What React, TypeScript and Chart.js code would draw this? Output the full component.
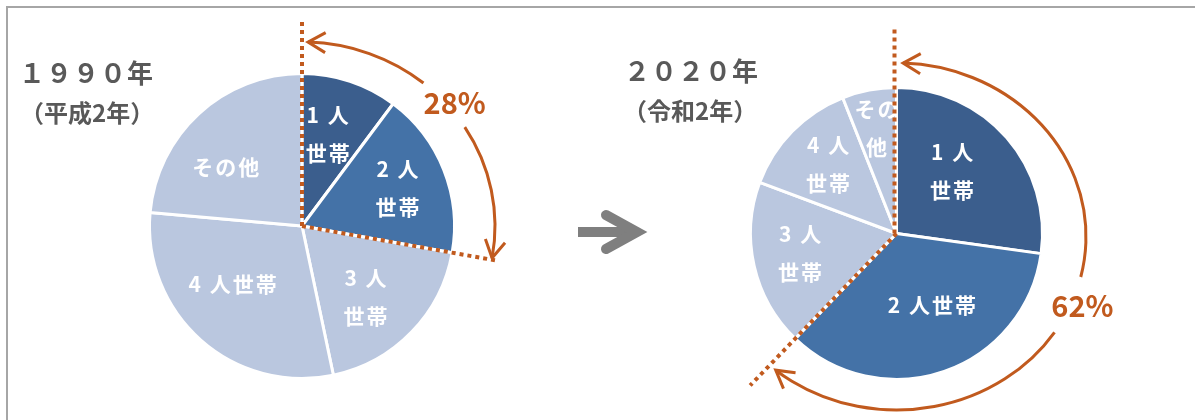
import React, { useEffect, useRef } from "react";
import { Chart, registerables } from "chart.js";

Chart.register(...registerables);

// ---- data ----
const categories = ["1人世帯", "2人世帯", "3人世帯", "4人世帯", "その他"];
const values1990 = [10.2, 17.6, 18.9, 29.7, 23.6];
const values2020 = [27.2, 35.0, 18.5, 13.3, 6.0];
const sliceLabels1990 = [["1 人", "世帯"], ["2 人", "世帯"], ["3 人", "世帯"], ["4 人世帯"], ["その他"]];
const sliceLabels2020 = [["1 人", "世帯"], ["2 人世帯"], ["3 人", "世帯"], ["4 人", "世帯"], ["その", "他"]];
const share1990 = "28%";
const share2020 = "62%";
const title1990 = ["１９９０年", "（平成2年）"];
const title2020 = ["２０２０年", "（令和2年）"];

// ---- styles ----
const sliceColors = ["#3B5E8D", "#4472A7", "#BAC7DF", "#BAC7DF", "#BAC7DF"];
const ORANGE = "#C15A1E";
const FONT = '"Noto Sans CJK JP", "Noto Sans", sans-serif';

type Decor = {
  labels: string[][];
  labelPos: number[][]; // [angle delta deg, radius fraction]
  visR: number;
  vLineLen: number;
  vLineDx: number;
  dLineLen: number;
  ell: { dy: number; rx: number; ry: number; t0: number; g0: number; g1: number; t1: number };
  share: string;
  shareScale: number;
};

function arrowHead(ctx: CanvasRenderingContext2D, x: number, y: number, dx: number, dy: number, len: number, half: number) {
  const a = Math.atan2(dy, dx);
  ctx.beginPath();
  ctx.moveTo(x + len * Math.cos(a + Math.PI - half), y + len * Math.sin(a + Math.PI - half));
  ctx.lineTo(x, y);
  ctx.lineTo(x + len * Math.cos(a + Math.PI + half), y + len * Math.sin(a + Math.PI + half));
  ctx.stroke();
}

const decorPlugin = {
  id: "pieDecor",
  afterDatasetsDraw(chart: any, _args: any, opts: Decor) {
    const meta = chart.getDatasetMeta(0);
    const arcs = meta.data as any[];
    if (!arcs.length) return;
    const cx = arcs[0].x;
    const cy = arcs[0].y;
    const R = opts.visR;
    const ctx: CanvasRenderingContext2D = chart.ctx;
    ctx.save();

    // slice labels
    ctx.fillStyle = "#FFFFFF";
    ctx.font = `bold 21px ${FONT}`;
    (ctx as any).letterSpacing = "2px";
    ctx.textAlign = "center";
    ctx.textBaseline = "middle";
    const lineH = 38;
    arcs.forEach((arc, i) => {
      const p = opts.labelPos[i];
      const mid = (arc.startAngle + arc.endAngle) / 2 + (p[0] * Math.PI) / 180;
      const r = R * p[1];
      const x = cx + r * Math.cos(mid) + 1;
      const y = cy + r * Math.sin(mid);
      const lines = opts.labels[i];
      lines.forEach((ln, k) => {
        ctx.fillText(ln, x, y + (k - (lines.length - 1) / 2) * lineH);
      });
    });
    (ctx as any).letterSpacing = "0px";

    // dotted lines
    ctx.strokeStyle = ORANGE;
    ctx.lineWidth = 4;
    ctx.lineCap = "butt";
    ctx.setLineDash([4, 4]);
    const a0 = arcs[0].startAngle;
    ctx.beginPath();
    ctx.moveTo(cx + opts.vLineDx, cy);
    ctx.lineTo(cx + opts.vLineDx + Math.cos(a0) * opts.vLineLen, cy + Math.sin(a0) * opts.vLineLen);
    ctx.stroke();
    const a1 = arcs[1].endAngle;
    ctx.beginPath();
    ctx.moveTo(cx, cy);
    ctx.lineTo(cx + Math.cos(a1) * opts.dLineLen, cy + Math.sin(a1) * opts.dLineLen);
    ctx.stroke();
    ctx.setLineDash([]);

    // curved arrow (two segments around the share text)
    const e = opts.ell;
    const ex = cx;
    const ey = cy + e.dy;
    const d2r = Math.PI / 180;
    ctx.lineWidth = 3;
    ctx.beginPath();
    ctx.ellipse(ex, ey, e.rx, e.ry, 0, e.t0 * d2r, e.g0 * d2r);
    ctx.stroke();
    ctx.beginPath();
    ctx.ellipse(ex, ey, e.rx, e.ry, 0, e.g1 * d2r, e.t1 * d2r);
    ctx.stroke();
    ctx.lineJoin = "miter";
    const ts = e.t0 * d2r;
    arrowHead(ctx, ex + e.rx * Math.cos(ts), ey + e.ry * Math.sin(ts), e.rx * Math.sin(ts), -e.ry * Math.cos(ts), 20, (30 * Math.PI) / 180);
    const te = e.t1 * d2r;
    arrowHead(ctx, ex + e.rx * Math.cos(te), ey + e.ry * Math.sin(te), -e.rx * Math.sin(te), e.ry * Math.cos(te), 20, (30 * Math.PI) / 180);

    // share text
    const tm = ((e.g0 + e.g1) / 2) * d2r;
    ctx.fillStyle = ORANGE;
    ctx.font = `bold 29px ${FONT}`;
    ctx.textAlign = "center";
    ctx.textBaseline = "middle";
    ctx.fillText(opts.share, ex + e.rx * opts.shareScale * Math.cos(tm), ey + e.ry * Math.sin(tm));
    ctx.restore();
  },
};

function PieCanvas(props: {
  values: number[];
  width: number;
  height: number;
  padding: { left: number; right: number; top: number; bottom: number };
  radius: number;
  decor: Decor;
}) {
  const ref = useRef<HTMLCanvasElement | null>(null);
  useEffect(() => {
    if (!ref.current) return;
    const chart = new Chart(ref.current, {
      type: "pie",
      data: {
        labels: categories,
        datasets: [
          {
            data: props.values,
            backgroundColor: sliceColors,
            borderColor: "#FFFFFF",
            borderWidth: 3,
          },
        ],
      },
      options: {
        animation: false,
        responsive: false,
        devicePixelRatio: 1,
        events: [],
        radius: props.radius,
        layout: { padding: props.padding },
        plugins: {
          legend: { display: false },
          tooltip: { enabled: false },
          pieDecor: props.decor,
        } as any,
      } as any,
      plugins: [decorPlugin as any],
    });
    return () => chart.destroy();
  }, []);
  return <canvas ref={ref} width={props.width} height={props.height} style={{ display: "block", width: props.width, height: props.height }} />;
}

const titleStyle: React.CSSProperties = {
  position: "absolute",
  fontFamily: FONT,
  fontWeight: 700,
  color: "#595959",
  lineHeight: 1,
  whiteSpace: "nowrap",
};

export default function App() {
  const decor1990: Decor = {
    labels: sliceLabels1990,
    labelPos: [[-2.7, 0.63], [0, 0.68], [4, 0.63], [8.4, 0.6], [-9.7, 0.64]],
    visR: 151,
    vLineLen: 208,
    vLineDx: 0,
    dLineLen: 200,
    ell: { dy: 0, rx: 193, ry: 184, t0: -88.2, g0: -51, g1: -32.5, t1: 10 },
    share: share1990,
    shareScale: 1.06,
  };
  const decor2020: Decor = {
    labels: sliceLabels2020,
    labelPos: [[-7.4, 0.58], [-7.4, 0.55], [1.6, 0.68], [1, 0.675], [0, 0.74]],
    visR: 144.5,
    vLineLen: 205,
    vLineDx: -2,
    dLineLen: 211,
    ell: { dy: 3, rx: 189.5, ry: 173.5, t0: -88, g0: 13.5, g1: 33.5, t1: 129.6 },
    share: share2020,
    shareScale: 1.07,
  };
  return (
    <div style={{ position: "fixed", left: 0, top: 0, width: 1195, height: 420, background: "#FFFFFF", overflow: "hidden" }}>
      <div style={{ position: "absolute", left: 6, top: 6, width: 1200, height: 420, borderTop: "2px solid #A6A6A6", borderLeft: "2px solid #A6A6A6" }} />
      <div style={{ position: "absolute", left: 0, top: 0 }}>
        <PieCanvas values={values1990} width={600} height={420} padding={{ left: 4, right: 0, top: 32, bottom: 0 }} radius={152.5} decor={decor1990} />
      </div>
      <div style={{ position: "absolute", left: 600, top: 0 }}>
        <PieCanvas values={values2020} width={595} height={420} padding={{ left: 0, right: 2, top: 47, bottom: 0 }} radius={146} decor={decor2020} />
      </div>
      <div style={{ ...titleStyle, left: 19, top: 59, fontSize: 26, letterSpacing: 1 }}>{title1990[0]}</div>
      <div style={{ ...titleStyle, left: 20, top: 100, fontSize: 24 }}>{title1990[1]}</div>
      <div style={{ ...titleStyle, left: 624, top: 57, fontSize: 26, letterSpacing: 1 }}>{title2020[0]}</div>
      <div style={{ ...titleStyle, left: 623, top: 98, fontSize: 24 }}>{title2020[1]}</div>
      <svg style={{ position: "absolute", left: 570, top: 205 }} width={80} height={60}>
        <line x1={8} y1={27} x2={64} y2={27} stroke="#7F7F7F" strokeWidth={10} />
        <polyline points="36,10 67,27 36,44" fill="none" stroke="#7F7F7F" strokeWidth={10} strokeLinecap="round" strokeLinejoin="miter" />
      </svg>
    </div>
  );
}
